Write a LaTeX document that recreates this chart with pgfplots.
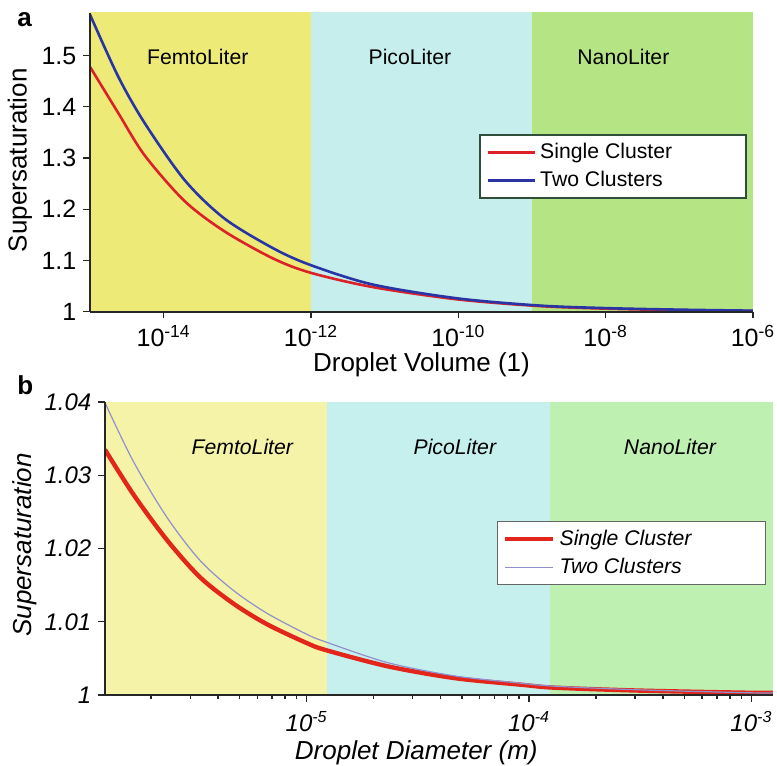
\documentclass[border=0pt]{standalone}
\usepackage{pgfplots}
\pgfplotsset{compat=1.18}
\usepackage{fontspec}
\setmainfont{Liberation Sans}

\definecolor{femtoA}{HTML}{EEEA78}
\definecolor{picoA}{HTML}{C5EEEC}
\definecolor{nanoA}{HTML}{B4E484}
\definecolor{femtoB}{HTML}{F5F3A8}
\definecolor{picoB}{HTML}{C6F0EE}
\definecolor{nanoB}{HTML}{BEF0B2}
\definecolor{redA}{HTML}{DC2228}
\definecolor{blueA}{HTML}{2A35A5}
\definecolor{redB}{HTML}{E3261C}
\definecolor{blueB}{HTML}{9090CC}
\definecolor{legA}{HTML}{2F4F3A}
\definecolor{legB}{HTML}{666666}

\newcommand{\dec}[1]{10\textsuperscript{#1}}

\pgfplotsset{
    sspanel/.style={
        scale only axis,
        axis x line*=bottom,
        axis y line*=left,
        axis line style={line width=0.9pt, black!85},
        tick align=outside,
        major tick length=3.3pt,
        minor tick length=2pt,
        tick style={line width=0.7pt, black!85},
        axis on top,
        legend cell align=left,
    }
}

\begin{document}
\begin{tikzpicture}
\useasboundingbox (0,0) rectangle (388.5pt,-383pt);

% panel a
\begin{axis}[sspanel, xmode=log,
    at={(45pt,-155.85pt)}, anchor=south west,
    width=331.5pt, height=149.35pt,
    xmin=1e-15, xmax=1e-6, ymin=1, ymax=1.583,
    xtick={1e-14,1e-12,1e-10,1e-8,1e-6},
    xticklabels={\dec{-14},\dec{-12},\dec{-10},\dec{-8},\dec{-6}},
    xminorticks=false,
    ytick={1,1.1,1.2,1.3,1.4,1.5},
    yticklabels={1,1.1,1.2,1.3,1.4,1.5},
    tick label style={font=\fontsize{12.5}{14}\selectfont},
    xlabel={Droplet Volume (1)},
    ylabel={Supersaturation},
    label style={font=\fontsize{13}{15}\selectfont},
    xlabel style={at={(rel axis cs:0.5,-0.1788)}, anchor=center},
    ylabel style={at={(rel axis cs:-0.1056,0.507)}, anchor=center},
    legend style={at={(0.991,0.594)}, anchor=north east, draw=legA, line width=0.8pt,
        fill=white, font=\fontsize{10.6}{12}\selectfont, inner xsep=3pt, inner ysep=2pt, row sep=1pt},
    legend image code/.code={\draw[#1, line width=1.6pt] (0pt,0pt) -- (23.5pt,0pt);},
]
\addplot[draw=none, fill=femtoA, forget plot] coordinates {(1e-15,0.9) (1e-15,1.7) (1e-12,1.7) (1e-12,0.9)};
\addplot[draw=none, fill=picoA, forget plot] coordinates {(1e-12,0.9) (1e-12,1.7) (1e-9,1.7) (1e-9,0.9)};
\addplot[draw=none, fill=nanoA, forget plot] coordinates {(1e-9,0.9) (1e-9,1.7) (1e-6,1.7) (1e-6,0.9)};

\addplot[redA, line width=1.3pt, smooth] coordinates {
    (1e-15,1.478) (2.415e-15,1.388) (5.534e-15,1.305) (1.923e-14,1.216)
    (6.668e-14,1.157) (3.048e-13,1.104) (9.89e-13,1.076) (6.918e-12,1.048)
    (9.77e-11,1.024) (1.259e-9,1.011) (1e-8,1.006) (1e-7,1.003) (1e-6,1.0015)
};
\addlegendentry{\makebox[98pt][l]{Single Cluster}}
\addplot[blueA, line width=1.3pt, smooth] coordinates {
    (1e-15,1.580) (2.415e-15,1.459) (5.534e-15,1.368) (1.923e-14,1.257)
    (6.668e-14,1.182) (3.048e-13,1.124) (9.89e-13,1.091) (6.918e-12,1.053)
    (9.77e-11,1.026) (1.259e-9,1.012) (1e-8,1.007) (1e-7,1.004) (1e-6,1.002)
};
\addlegendentry{\makebox[98pt][l]{Two Clusters}}

\node[font=\fontsize{10.6}{12}\selectfont] at (axis cs:2.9e-14,1.4975) {FemtoLiter};
\node[font=\fontsize{10.6}{12}\selectfont] at (axis cs:2.2e-11,1.4975) {PicoLiter};
\node[font=\fontsize{10.6}{12}\selectfont] at (axis cs:1.74e-8,1.4975) {NanoLiter};
\end{axis}

% panel b
\begin{axis}[sspanel, xmode=log,
    at={(52.5pt,-347.5pt)}, anchor=south west,
    width=334pt, height=146.5pt,
    xmin=1.24e-6, xmax=1.25e-3, ymin=1, ymax=1.04,
    xtick={1e-5,1e-4,1e-3},
    xticklabels={\dec{-5},\dec{-4},\dec{-3}},
    minor xtick={2e-6,3e-6,4e-6,5e-6,6e-6,7e-6,8e-6,9e-6,
        2e-5,3e-5,4e-5,5e-5,6e-5,7e-5,8e-5,9e-5,
        2e-4,3e-4,4e-4,5e-4,6e-4,7e-4,8e-4,9e-4},
    ytick={1,1.01,1.02,1.03,1.04},
    yticklabels={1,1.01,1.02,1.03,1.04},
    tick label style={font=\itshape\fontsize{12}{14}\selectfont},
    xticklabel shift=1.5pt,
    xlabel={Droplet Diameter (m)},
    ylabel={Supersaturation},
    label style={font=\itshape\fontsize{13}{15}\selectfont},
    xlabel style={at={(rel axis cs:0.466,-0.196)}, anchor=center},
    ylabel style={at={(rel axis cs:-0.1198,0.512)}, anchor=center},
    legend style={at={(0.99,0.594)}, anchor=north east, draw=legB, line width=0.7pt,
        fill=white, font=\itshape\fontsize{10.6}{12}\selectfont, inner xsep=3pt, inner ysep=2pt, row sep=1pt},
    legend image code/.code={\draw[#1] (0pt,0pt) -- (24pt,0pt);},
]
\addplot[draw=none, fill=femtoB, forget plot] coordinates {(1e-6,0.99) (1e-6,1.05) (1.24e-5,1.05) (1.24e-5,0.99)};
\addplot[draw=none, fill=picoB, forget plot] coordinates {(1.24e-5,0.99) (1.24e-5,1.05) (1.24e-4,1.05) (1.24e-4,0.99)};
\addplot[draw=none, fill=nanoB, forget plot] coordinates {(1.24e-4,0.99) (1.24e-4,1.05) (1.3e-3,1.05) (1.3e-3,0.99)};

\addplot[redB, line width=2.2pt, smooth] coordinates {
    (1.240e-6,1.0335) (1.663e-6,1.0274) (2.350e-6,1.0212) (3.311e-6,1.0161)
    (4.677e-6,1.0125) (6.6e-6,1.0097) (1e-5,1.0071) (1.230e-5,1.0061)
    (2.328e-5,1.0039) (4.645e-5,1.0023) (9.247e-5,1.0014) (1.306e-4,1.0010)
    (3.162e-4,1.0006) (1e-3,1.0003) (1.25e-3,1.0003)
};
\addlegendentry{\makebox[98pt][l]{Single Cluster}}
\addplot[blueB, line width=0.6pt, smooth] coordinates {
    (1.240e-6,1.0399) (1.663e-6,1.0319) (2.350e-6,1.0243) (3.311e-6,1.0184)
    (4.677e-6,1.0143) (6.6e-6,1.0112) (1e-5,1.0083) (1.230e-5,1.0072)
    (2.328e-5,1.0044) (4.645e-5,1.0026) (9.247e-5,1.0016) (1.306e-4,1.0012)
    (3.162e-4,1.0007) (1e-3,1.0003) (1.25e-3,1.0003)
};
\addlegendentry{\makebox[98pt][l]{Two Clusters}}

\node[font=\itshape\fontsize{10.6}{12}\selectfont] at (axis cs:5.14e-6,1.0339) {FemtoLiter};
\node[font=\itshape\fontsize{10.6}{12}\selectfont] at (axis cs:4.64e-5,1.0339) {PicoLiter};
\node[font=\itshape\fontsize{10.6}{12}\selectfont] at (axis cs:4.3e-4,1.0339) {NanoLiter};
\end{axis}

\node[font=\bfseries\fontsize{13}{15}\selectfont, anchor=base west, inner sep=0pt] at (8.5pt,-13.3pt) {a};
\node[font=\bfseries\fontsize{13}{15}\selectfont, anchor=base west, inner sep=0pt] at (8.5pt,-197pt) {b};
\end{tikzpicture}
\end{document}
